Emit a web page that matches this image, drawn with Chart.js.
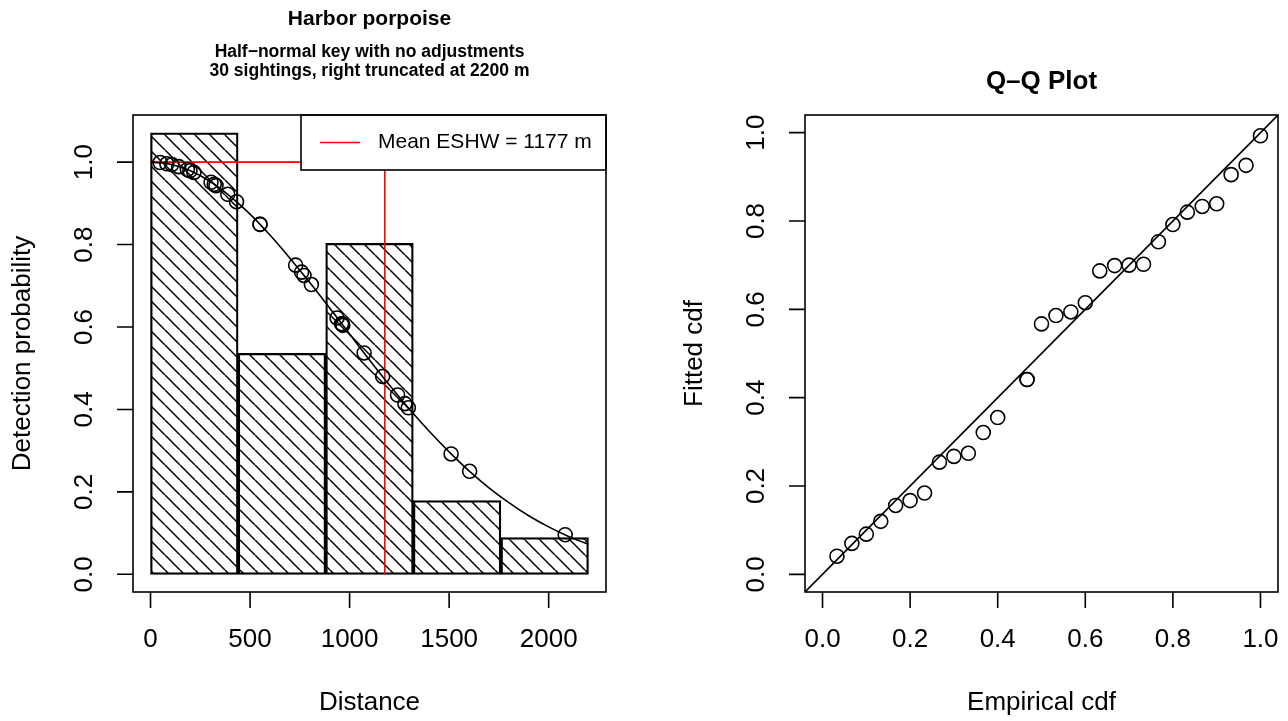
<!DOCTYPE html>
<html>
<head>
<meta charset="utf-8">
<script src="https://cdn.jsdelivr.net/npm/chart.js@4.4.1/dist/chart.umd.min.js"></script>
<style>
  body { margin: 0; background: #fff; }
  #wrap { position: relative; width: 1288px; height: 721px; }
  canvas { position: absolute; top: 0; }
</style>
</head>
<body>
<div id="wrap">
  <canvas id="detFn" width="644" height="721" style="left:0"></canvas>
  <canvas id="qqPlot" width="644" height="721" style="left:644px"></canvas>
</div>
<script>
// values
var distTicks = [0, 500, 1000, 1500, 2000];
var probTicks = [0, 0.2, 0.4, 0.6, 0.8, 1.0];
var cdfTicks = [0, 0.2, 0.4, 0.6, 0.8, 1.0];

// histogram, bins of 440 m up to 2200 m
var binWidth = 440;
var binMids = [220, 660, 1100, 1540, 1980];
var binHeights = [1.071, 0.536, 0.803, 0.179, 0.089];

// fitted detection function
var curveDist = [0, 100, 200, 300, 400, 500, 600, 700, 800, 900, 1000, 1100,
                 1200, 1300, 1400, 1500, 1600, 1700, 1800, 1900, 2000, 2100, 2200];
var curveProb = [1.000, 0.995, 0.979, 0.953, 0.917, 0.874, 0.823, 0.767, 0.708, 0.646, 0.583, 0.520,
                 0.459, 0.401, 0.347, 0.297, 0.251, 0.210, 0.174, 0.142, 0.115, 0.092, 0.073];

// sightings
var sightDist = [48, 82, 107, 142, 185, 198, 218, 304, 320, 329, 388, 432, 550, 550, 729,
                 759, 771, 808, 937, 960, 962, 966, 1073, 1166, 1241, 1278, 1295, 1510, 1603, 2083];
var sightProb = [0.999, 0.996, 0.994, 0.989, 0.982, 0.979, 0.975, 0.951, 0.946, 0.943, 0.922, 0.904, 0.849, 0.849, 0.750,
                 0.733, 0.725, 0.703, 0.622, 0.608, 0.607, 0.604, 0.537, 0.480, 0.435, 0.414, 0.404, 0.292, 0.250, 0.096];

var eshw = 1177;

// Q-Q plot
var empCdf = [0.033, 0.067, 0.100, 0.133, 0.167, 0.200, 0.233, 0.267, 0.300, 0.333, 0.367, 0.400, 0.467, 0.467, 0.500,
              0.533, 0.567, 0.600, 0.633, 0.667, 0.700, 0.733, 0.767, 0.800, 0.833, 0.867, 0.900, 0.933, 0.967, 1.000];
var fitCdf = [0.041, 0.070, 0.091, 0.120, 0.156, 0.167, 0.184, 0.254, 0.267, 0.274, 0.321, 0.355, 0.441, 0.441, 0.567,
              0.586, 0.594, 0.615, 0.687, 0.699, 0.700, 0.702, 0.753, 0.792, 0.820, 0.833, 0.839, 0.905, 0.926, 0.993];

var FONT = '"Liberation Sans", Arial, Helvetica, sans-serif';
var LW = 1.6;

function pares(xs, ys) {
  return xs.map(function (x, i) { return { x: x, y: ys[i] }; });
}

function rayado(ctx) {
  var c = document.createElement('canvas');
  c.width = 15; c.height = 15;
  var g = c.getContext('2d');
  g.strokeStyle = '#000';
  g.lineWidth = 1.5;
  [-15, 0, 15].forEach(function (o) {
    g.beginPath(); g.moveTo(o, 0); g.lineTo(o + 15, 15); g.stroke();
  });
  return ctx.createPattern(c, 'repeat');
}

// R style box, ticks and labels
function marcoR(cfg) {
  return {
    id: 'marcoR',
    afterDraw: function (chart) {
      var ctx = chart.ctx, a = chart.chartArea;
      var sx = chart.scales.x, sy = chart.scales.y;
      ctx.save();
      ctx.strokeStyle = '#000';
      ctx.fillStyle = '#000';
      ctx.lineWidth = LW;
      ctx.strokeRect(a.left, a.top, a.right - a.left, a.bottom - a.top);

      ctx.beginPath();
      cfg.xTicks.forEach(function (v) {
        var px = sx.getPixelForValue(v);
        ctx.moveTo(px, a.bottom); ctx.lineTo(px, a.bottom + 16);
      });
      cfg.yTicks.forEach(function (v) {
        var py = sy.getPixelForValue(v);
        ctx.moveTo(a.left, py); ctx.lineTo(a.left - 16, py);
      });
      ctx.stroke();

      ctx.font = '26px ' + FONT;
      ctx.textAlign = 'center';
      ctx.textBaseline = 'middle';
      cfg.xTicks.forEach(function (v) {
        ctx.fillText(cfg.xFmt(v), sx.getPixelForValue(v), a.bottom + 48);
      });
      cfg.yTicks.forEach(function (v) {
        ctx.save();
        ctx.translate(a.left - 48, sy.getPixelForValue(v));
        ctx.rotate(-Math.PI / 2);
        ctx.fillText(cfg.yFmt(v), 0, 0);
        ctx.restore();
      });

      ctx.fillText(cfg.xTitle, (a.left + a.right) / 2, a.bottom + 111);
      ctx.save();
      ctx.translate(a.left - 110, (a.top + a.bottom) / 2);
      ctx.rotate(-Math.PI / 2);
      ctx.fillText(cfg.yTitle, 0, 0);
      ctx.restore();

      var cx = (a.left + a.right) / 2;
      cfg.titles.forEach(function (t) {
        ctx.font = 'bold ' + t.size + 'px ' + FONT;
        ctx.fillText(t.text, cx, t.y);
      });
      ctx.restore();
    }
  };
}

var leyendaESHW = {
  id: 'leyendaESHW',
  afterDatasetsDraw: function (chart) {
    var ctx = chart.ctx, a = chart.chartArea;
    var w = 305, h = 55;
    var x0 = a.right - w, y0 = a.top;
    ctx.save();
    ctx.fillStyle = '#fff';
    ctx.fillRect(x0, y0, w, h);
    ctx.strokeStyle = '#000';
    ctx.lineWidth = LW;
    ctx.strokeRect(x0, y0, w, h);
    ctx.strokeStyle = '#ff0000';
    ctx.beginPath();
    ctx.moveTo(x0 + 19, y0 + h / 2); ctx.lineTo(x0 + 59, y0 + h / 2);
    ctx.stroke();
    ctx.fillStyle = '#000';
    ctx.font = '21px ' + FONT;
    ctx.textAlign = 'left';
    ctx.textBaseline = 'middle';
    ctx.fillText('Mean ESHW = ' + eshw + ' m', x0 + 77, y0 + h / 2);
    ctx.restore();
  }
};

var comunes = {
  responsive: false,
  animation: false,
  events: [],
  plugins: { legend: { display: false }, tooltip: { enabled: false } }
};

var ctxDet = document.getElementById('detFn').getContext('2d');

new Chart(ctxDet, {
  type: 'scatter',
  data: {
    datasets: [
      {
        type: 'bar',
        data: pares(binMids, binHeights),
        backgroundColor: rayado(ctxDet),
        borderColor: '#000',
        borderWidth: LW,
        borderSkipped: false,
        barPercentage: 1,
        categoryPercentage: 1,
        order: 4
      },
      {
        type: 'line',
        data: pares([0, eshw, eshw], [1, 1, 0]),
        borderColor: '#ff0000',
        borderWidth: LW,
        pointRadius: 0,
        tension: 0,
        fill: false,
        order: 3
      },
      {
        type: 'line',
        data: pares(curveDist, curveProb),
        borderColor: '#000',
        borderWidth: LW,
        pointRadius: 0,
        cubicInterpolationMode: 'monotone',
        fill: false,
        order: 2
      },
      {
        data: pares(sightDist, sightProb),
        pointRadius: 7,
        pointBorderWidth: LW,
        pointBorderColor: '#000',
        pointBackgroundColor: 'rgba(0,0,0,0)',
        order: 1
      }
    ]
  },
  options: Object.assign({}, comunes, {
    layout: { padding: { left: 133, right: 38, top: 115, bottom: 129 } },
    scales: {
      // ticks every bin width so the bars fill their bins
      x: { type: 'linear', min: -88, max: 2288, offset: false, display: false,
           ticks: { stepSize: binWidth, includeBounds: false } },
      y: { type: 'linear', min: -0.0429, max: 1.1143, display: false }
    }
  }),
  plugins: [leyendaESHW, marcoR({
    xTicks: distTicks,
    yTicks: probTicks,
    xFmt: function (v) { return String(v); },
    yFmt: function (v) { return v.toFixed(1); },
    xTitle: 'Distance',
    yTitle: 'Detection probability',
    titles: [
      { text: 'Harbor porpoise', size: 21, y: 19 },
      { text: 'Half\u2212normal key with no adjustments', size: 17.5, y: 52 },
      { text: '30 sightings, right truncated at 2200 m', size: 17.5, y: 71 }
    ]
  })]
});

new Chart(document.getElementById('qqPlot'), {
  type: 'scatter',
  data: {
    datasets: [
      {
        type: 'line',
        data: pares([-0.04, 1.04], [-0.04, 1.04]),
        borderColor: '#000',
        borderWidth: LW,
        pointRadius: 0,
        fill: false,
        order: 2
      },
      {
        data: pares(empCdf, fitCdf),
        pointRadius: 7,
        pointBorderWidth: LW,
        pointBorderColor: '#000',
        pointBackgroundColor: 'rgba(0,0,0,0)',
        order: 1
      }
    ]
  },
  options: Object.assign({}, comunes, {
    layout: { padding: { left: 161, right: 10, top: 115, bottom: 129 } },
    scales: {
      x: { type: 'linear', min: -0.04, max: 1.04, display: false },
      y: { type: 'linear', min: -0.04, max: 1.04, display: false }
    }
  }),
  plugins: [marcoR({
    xTicks: cdfTicks,
    yTicks: cdfTicks,
    xFmt: function (v) { return v.toFixed(1); },
    yFmt: function (v) { return v.toFixed(1); },
    xTitle: 'Empirical cdf',
    yTitle: 'Fitted cdf',
    titles: [
      { text: 'Q\u2013Q Plot', size: 26, y: 82 }
    ]
  })]
});
</script>
</body>
</html>
